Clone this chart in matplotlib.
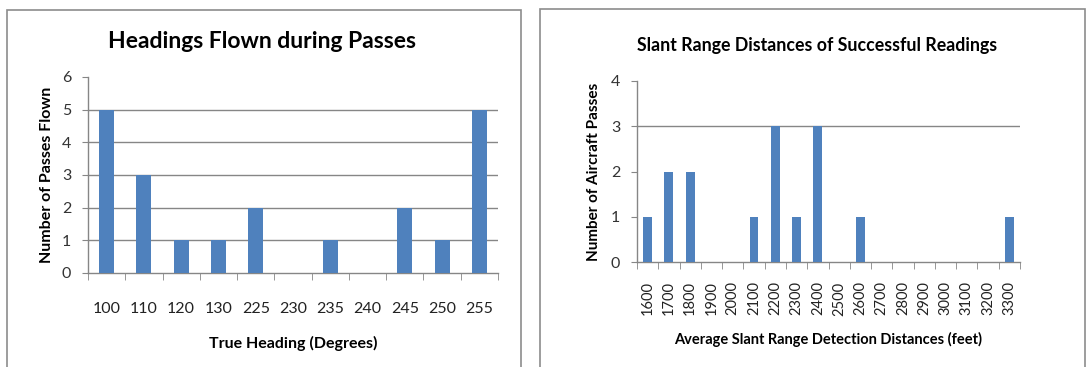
import matplotlib
matplotlib.use("Agg")
import matplotlib.pyplot as plt
from matplotlib.patches import Rectangle

plt.rcParams['font.family'] = ['Lato', 'DejaVu Sans']

# headings chart data
headings = ["100", "110", "120", "130", "225", "230", "235", "240", "245", "250", "255"]
passes = [5, 3, 1, 1, 2, 0, 1, 0, 2, 1, 5]

# slant range chart data
distances = ["1600", "1700", "1800", "1900", "2000", "2100", "2200", "2300", "2400",
             "2500", "2600", "2700", "2800", "2900", "3000", "3100", "3200", "3300"]
aircraft_passes = [1, 2, 2, 0, 0, 1, 3, 1, 3, 0, 1, 0, 0, 0, 0, 0, 0, 1]

bar_color = "#4F81BD"
grid_color = "#868686"
W, H = 1089, 367

fig = plt.figure(figsize=(W / 100, H / 100), dpi=100)

def px_rect(x0, y0, x1, y1):
    return [x0 / W, 1 - y1 / H, (x1 - x0) / W, (y1 - y0) / H]

# chart frames
for x0, y0, x1, y1 in [(7, 10, 521, 372), (540, 9, 1085, 372)]:
    fig.patches.append(Rectangle((x0 / W, 1 - y1 / H), (x1 - x0) / W, (y1 - y0) / H,
                                 transform=fig.transFigure, fill=False,
                                 edgecolor="#8c8c8c", linewidth=1.2))

def style_axes(ax, n):
    for s in ["top", "right"]:
        ax.spines[s].set_visible(False)
    for s in ["left", "bottom"]:
        ax.spines[s].set_color(grid_color)
        ax.spines[s].set_linewidth(1.0)
    ax.set_xlim(-0.5, n - 0.5)
    # category separator ticks
    ax.set_xticks([i - 0.5 for i in range(n + 1)], minor=True)
    ax.tick_params(axis="x", which="minor", length=5, color=grid_color, direction="out")
    ax.tick_params(axis="x", which="major", length=0)
    ax.tick_params(axis="y", length=4, color=grid_color, labelcolor="#333333")
    ax.set_axisbelow(True)

# left: headings flown
ax1 = fig.add_axes(px_rect(88, 77, 498, 273))
x1 = range(len(headings))
ax1.bar(x1, passes, width=0.4, color=bar_color, zorder=3)
style_axes(ax1, len(headings))
ax1.set_ylim(0, 6)
ax1.set_yticks(range(7))
for v in range(1, 6):
    ax1.axhline(v, color=grid_color, linewidth=1.0, zorder=1)
ax1.set_xticks(list(x1))
ax1.set_xticklabels(headings, fontsize=11.5, color="#222222")
ax1.tick_params(axis="x", which="major", pad=21)
ax1.tick_params(axis="y", labelsize=11.5, pad=8)
ax1.set_xlabel("True Heading (Degrees)", fontsize=11.5, fontweight="bold", labelpad=14)
ax1.set_ylabel("Number of Passes Flown", fontsize=11.5, fontweight="bold", labelpad=6)
fig.text(262 / W, 1 - 41 / H, "Headings Flown during Passes", ha="center", va="center",
         fontsize=16.5, fontweight="bold")

# right: slant range distances
ax2 = fig.add_axes(px_rect(637, 81, 1020, 262))
x2 = range(len(distances))
ax2.bar(x2, aircraft_passes, width=0.42, color=bar_color, zorder=3)
style_axes(ax2, len(distances))
ax2.set_ylim(0, 4)
ax2.set_yticks(range(5))
ax2.axhline(3, color=grid_color, linewidth=1.0, zorder=1)
ax2.set_xticks(list(x2))
ax2.set_xticklabels(distances, rotation=90, fontsize=10.5, color="#222222")
ax2.tick_params(axis="x", which="major", pad=14)
ax2.tick_params(axis="y", labelsize=11.5, pad=8)
ax2.set_xlabel("Average Slant Range Detection Distances (feet)", fontsize=10.5,
               fontweight="bold", labelpad=12)
ax2.set_ylabel("Number of Aircraft Passes", fontsize=11, fontweight="bold", labelpad=7)
fig.text(817 / W, 1 - 46 / H, "Slant Range Distances of Successful Readings",
         ha="center", va="center", fontsize=12.8, fontweight="bold")

fig.savefig("out.png", dpi=100)
